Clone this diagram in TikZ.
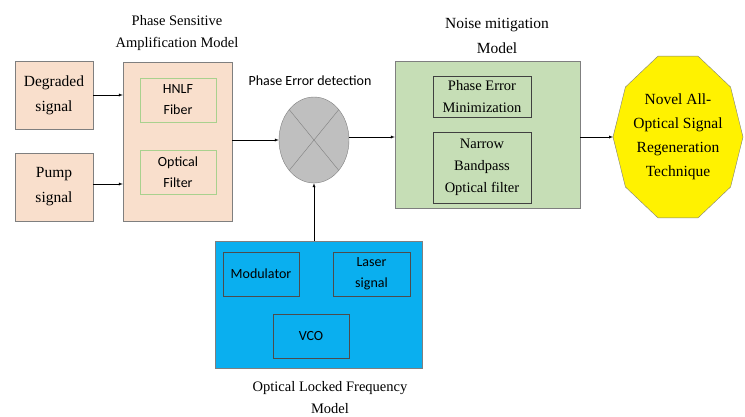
\documentclass[tikz,border=0pt]{standalone}
\usepackage{fontspec}
\setmainfont{Liberation Serif}
\newfontfamily\calibri{Carlito}
\usetikzlibrary{shapes.geometric}
\definecolor{peach}{HTML}{F9DFCC}
\definecolor{sage}{HTML}{C6DEB6}
\definecolor{skyblue}{HTML}{0AAFEF}
\definecolor{edgegray}{HTML}{7F7F7F}
\definecolor{leafgreen}{HTML}{A9D18E}
\definecolor{crossgray}{HTML}{BFBFBF}
\begin{document}
\begin{tikzpicture}[x=1pt,y=-1pt,>=latex,
  romantext/.style={font=\rmfamily\fontsize{15.5}{25}\selectfont, align=center},
  sanstext/.style={font=\calibri\fontsize{14}{21}\selectfont, align=center},
  titletext/.style={font=\rmfamily\fontsize{14.5}{22}\selectfont, align=center},
  srcbox/.style={draw=edgegray, fill=peach, minimum width=78pt, minimum height=68pt, romantext},
  fibrebox/.style={draw=leafgreen, thick, fill=peach, minimum width=76pt, minimum height=44pt, sanstext},
  mitbox/.style={draw=black!75, fill=sage, minimum width=98pt, align=center, font=\rmfamily\fontsize{14.5}{22}\selectfont},
  lockbox/.style={draw=black!70, fill=skyblue, minimum width=76pt, minimum height=44pt, sanstext}
]

\useasboundingbox (0,0) rectangle (745,416);

% inputs and phase sensitive amplifier
\node[srcbox] (degraded) at (54,95) {Degraded\\signal};
\node[srcbox] (pump) at (54,187) {Pump\\signal};

\node[draw=edgegray, fill=peach, minimum width=109pt, minimum height=159pt] (psa) at (177.5,141.5) {};
\node[fibrebox] (hnlf) at (178,100) {HNLF\\Fiber};
\node[fibrebox] (ofilter) at (178,172) {Optical\\Filter};
\node[titletext] (psatitle) at (177,33) {Phase Sensitive\\Amplification Model};

% phase error detector
\node[ellipse, draw=edgegray, fill=crossgray, minimum width=70pt, minimum height=86pt] (det) at (314,140) {};
\draw[edgegray] (det.north west) -- (det.south east);
\draw[edgegray] (det.north east) -- (det.south west);
\node[sanstext] (dettitle) at (310,81) {Phase Error detection};

%%%%%%%%%%%%%%%

% noise mitigation
\node[draw=edgegray, fill=sage, minimum width=185pt, minimum height=147pt] (noise) at (487.5,134.5) {};
\node[mitbox, minimum height=41pt] (pem) at (482,96.5) {Phase Error\\Minimization};
\node[mitbox, minimum height=71pt] (nbp) at (482,167.5) {Narrow\\Bandpass\\Optical filter};
\node[titletext, font=\rmfamily\fontsize{15.5}{25}\selectfont] (noisetitle) at (497,36) {Noise mitigation\\Model};

% regeneration output
\draw[edgegray, fill=yellow] (743,137)
  \foreach \a in {36,72,...,324} { -- ({678+65*cos(\a)},{137+85*sin(\a)}) } -- cycle;
\coordinate (novelw) at (613,137);
\node[romantext, font=\rmfamily\fontsize{15.5}{24}\selectfont] (novel) at (678,137) {Novel All-\\Optical Signal\\Regeneration\\Technique};

% optical locked frequency model
\node[draw=edgegray, fill=skyblue, minimum width=207pt, minimum height=127pt] (olf) at (318.5,304.5) {};
\node[lockbox] (modulator) at (261,274) {Modulator};
\node[lockbox, minimum width=77pt] (laser) at (371.5,274) {Laser\\signal};
\node[lockbox] (vco) at (311,336) {VCO};
\node[titletext] (olftitle) at (330,398) {Optical Locked Frequency\\Model};

%%%%%%%%%%%%%%%

\draw[->] (degraded.east) -- (degraded.east -| psa.west);
\draw[->] (pump.east |- 0,184) -- (psa.west |- 0,184);
\draw[->] (psa.east |- det.west) -- (det.west);
\draw[->] (det.east |- 0,137) -- (noise.west |- 0,137);
\draw[->] (noise.east |- novelw) -- (novelw);
\draw[->] (det.south |- olf.north) -- (det.south);

\end{tikzpicture}
\end{document}
